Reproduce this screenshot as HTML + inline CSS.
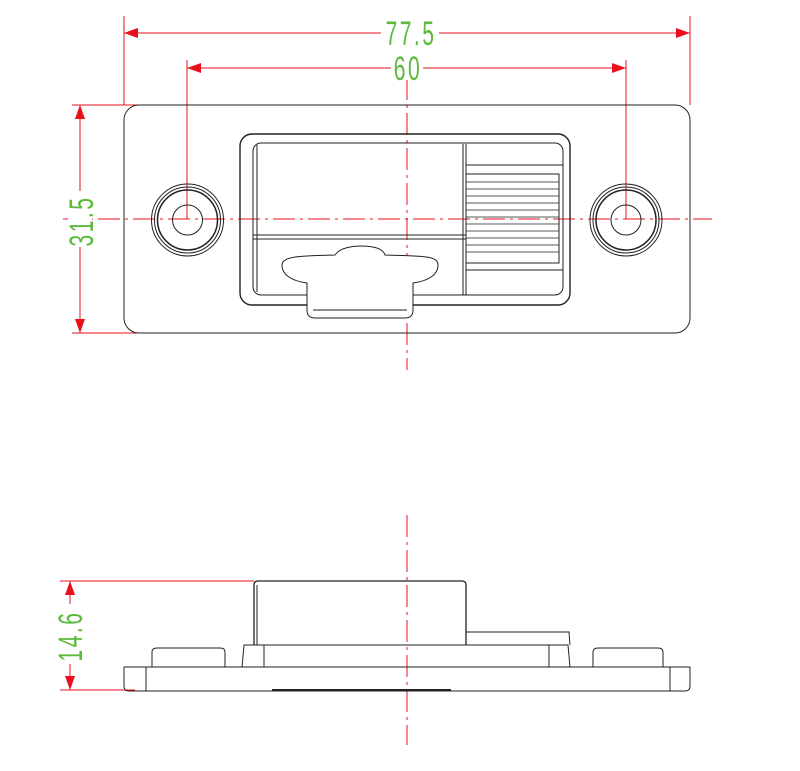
<!DOCTYPE html>
<html><head><style>body{margin:0;background:#fff}svg{display:block}</style></head><body>
<svg width="800" height="771" viewBox="0 0 800 771" xmlns="http://www.w3.org/2000/svg">
<defs>
<marker id="a" viewBox="0 0 14 10" refX="14" refY="5" markerWidth="14" markerHeight="10" markerUnits="userSpaceOnUse" orient="auto-start-reverse"><path d="M14,5 L0,0 L0,10z" fill="#e8101c"/></marker>
</defs>
<g stroke="#e8101c" stroke-width="1" fill="none">
<line x1="124" y1="16" x2="124" y2="105"/><line x1="690" y1="16" x2="690" y2="105"/>
<line x1="124" y1="33" x2="690" y2="33" marker-start="url(#a)" marker-end="url(#a)"/>
<line x1="187" y1="60" x2="187" y2="219"/><line x1="626" y1="60" x2="626" y2="219"/>
<line x1="187" y1="68" x2="626" y2="68" marker-start="url(#a)" marker-end="url(#a)"/>
<line x1="72" y1="105" x2="165" y2="105"/><line x1="72" y1="333" x2="165" y2="333"/>
<line x1="80" y1="105" x2="80" y2="333" marker-start="url(#a)" marker-end="url(#a)"/>
<line x1="60" y1="581" x2="254" y2="581"/><line x1="60" y1="690" x2="135" y2="690"/>
<line x1="70" y1="581" x2="70" y2="690" marker-start="url(#a)" marker-end="url(#a)"/>
<line x1="407" y1="78" x2="407" y2="370" stroke-dasharray="22,5,3,5"/>
<line x1="63" y1="219" x2="712" y2="219" stroke-dasharray="22,5,3,5"/>
<line x1="407" y1="515" x2="407" y2="745" stroke-dasharray="22,5,3,5"/>
</g>
<g fill="#fff">
<rect x="381" y="22" width="58" height="24"/>
<rect x="391" y="56" width="32" height="24"/>
<rect x="68" y="191" width="24" height="56"/>
<rect x="58" y="604" width="24" height="60"/>
</g>
<g fill="#5dba3c" font-family="Liberation Sans, sans-serif" font-size="34" letter-spacing="4">
<text x="0" y="0" transform="translate(411,45) scale(0.62,1)" text-anchor="middle">77.5</text>
<text x="0" y="0" transform="translate(408,80) scale(0.62,1)" text-anchor="middle">60</text>
<text x="0" y="0" transform="translate(93,221) rotate(-90) scale(0.62,1)" text-anchor="middle">31.5</text>
<text x="0" y="0" transform="translate(82,636) rotate(-90) scale(0.62,1)" text-anchor="middle">14.6</text>
</g>
<g stroke="#222" stroke-width="1" fill="none">
<rect x="124" y="105" width="566" height="228" rx="15"/>
<circle cx="187.5" cy="220" r="36"/><circle cx="187.5" cy="220" r="33"/><circle cx="187.5" cy="220" r="30" stroke-width="1.5"/><circle cx="187.5" cy="220" r="15"/>
<circle cx="626" cy="220" r="36"/><circle cx="626" cy="220" r="33"/><circle cx="626" cy="220" r="30" stroke-width="1.5"/><circle cx="626" cy="220" r="15"/>
<rect x="240" y="134" width="330" height="171" rx="12" stroke-width="1.4"/>
<rect x="253" y="143" width="310" height="152" rx="8"/>
<line x1="257" y1="145" x2="257" y2="292"/>
<line x1="463" y1="144" x2="463" y2="295"/><line x1="466" y1="144" x2="466" y2="295"/>
<line x1="253" y1="235" x2="466" y2="235"/><line x1="253" y1="239" x2="466" y2="239"/>
<rect x="466" y="174" width="93" height="89"/>
<line x1="466" y1="165" x2="563" y2="165"/><line x1="466" y1="270" x2="563" y2="270"/>
<g stroke-width="0.8">
<line x1="466" y1="182" x2="559" y2="182"/><line x1="466" y1="189" x2="559" y2="189"/><line x1="466" y1="196" x2="559" y2="196"/><line x1="466" y1="203" x2="559" y2="203"/><line x1="466" y1="210" x2="559" y2="210"/><line x1="466" y1="217" x2="559" y2="217"/><line x1="466" y1="224" x2="559" y2="224"/><line x1="466" y1="231" x2="559" y2="231"/><line x1="466" y1="238" x2="559" y2="238"/><line x1="466" y1="245" x2="559" y2="245"/><line x1="466" y1="252" x2="559" y2="252"/>
</g>
<path d="M307,283 C292,281 282,275 282,265 C282,256 300,256 335,255 C340,247 355,246 360,246 C372,246 383,248 385,255 C425,256 438,256 438,265 C438,275 428,281 413,283 L413,310 Q413,318 405,318 L315,318 Q307,318 307,310 Z" fill="#fff"/>
<line x1="313" y1="310" x2="407" y2="310"/>
<path d="M124,667 L690,667 L690,686 Q690,691 685,691 L129,691 Q124,691 124,686 Z"/>
<line x1="146" y1="667" x2="146" y2="691"/><line x1="670" y1="667" x2="670" y2="691"/>
<line x1="272" y1="690" x2="451" y2="690" stroke-width="2"/>
<path d="M152,667 L152,652 Q152,648 157,648 L220,648 Q225,648 225,652 L225,667"/>
<path d="M593,667 L593,652 Q593,648 598,648 L658,648 Q663,648 663,652 L663,667"/>
<path d="M242,667 L244,645 L568,645 L570,667"/>
<line x1="264" y1="645" x2="264" y2="667"/><line x1="549" y1="645" x2="549" y2="667"/>
<path d="M254,645 L254,585 Q254,581 258,581 L462,581 Q466,581 466,585 L466,645" stroke-width="1.3"/>
<line x1="257" y1="585" x2="257" y2="645"/>
<path d="M466,632 L569,632 L570,645"/>
</g>
</svg>
</body></html>
